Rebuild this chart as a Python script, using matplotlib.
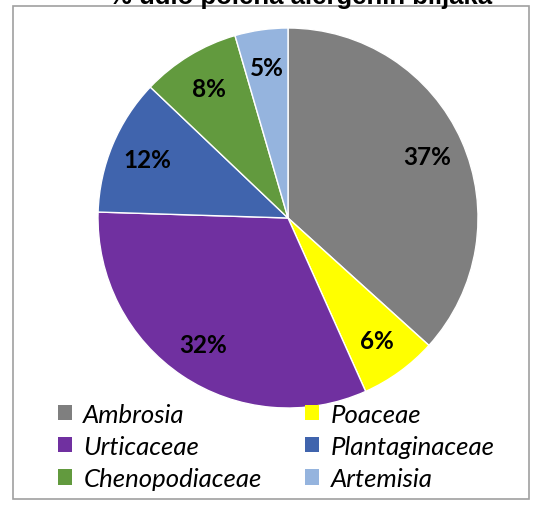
import matplotlib.pyplot as plt
from matplotlib.patches import Rectangle, Patch

# udio polena po porodicama (%)
names = ['Ambrosia', 'Poaceae', 'Urticaceae', 'Plantaginaceae', 'Chenopodiaceae', 'Artemisia']
values = [36.7, 6.6, 32.2, 11.6, 8.4, 4.5]
labels = ['37%', '6%', '32%', '12%', '8%', '5%']
colors = ['#7f7f7f', '#ffff00', '#7030a0', '#4064ad', '#629a3e', '#95b4de']

W, H = 533, 506
fig = plt.figure(figsize=(W/100, H/100), dpi=100)

# okvir grafikona
fig.patches.append(Rectangle((13/W, 1 - 500/H), 516/W, 493/H, transform=fig.transFigure,
                             fill=False, edgecolor='#a0a0a0', linewidth=1.2))

fig.text(301/W, 1 - 4/H, '% udio polena alergenih biljaka', ha='center', va='baseline',
         fontsize=18.5, fontweight='bold', family='Liberation Sans')

r = 190
ax = fig.add_axes([(288 - r)/W, 1 - (219 + r)/H, 2*r/W, 2*r/H])
wedges, texts = ax.pie(values, colors=colors, startangle=90, counterclock=False,
                       labels=labels, labeldistance=0.8,
                       wedgeprops=dict(edgecolor='white', linewidth=1))
for t in texts:
    t.set_fontsize(17.5)
    t.set_fontweight('bold')
    t.set_family('Lato')
    t.set_ha('center')
    t.set_va('center')
ax.set_xlim(-1, 1)
ax.set_ylim(-1, 1)
ax.set_aspect('equal')
ax.axis('off')

# legenda u dva stupca, redom po recima
order = [0, 2, 4, 1, 3, 5]
handles = [Patch(facecolor=colors[i], edgecolor='none') for i in order]
leg = fig.legend(handles, [names[i] for i in order], ncol=2, loc='upper left',
                 bbox_to_anchor=(37/W, 1 - 383/H), frameon=False,
                 prop=dict(family='Lato', style='italic', size=18.5),
                 handlelength=0.55, handleheight=0.55, handletextpad=0.45,
                 columnspacing=1.7, labelspacing=0.36, borderpad=0.3)

fig.savefig('out.png', dpi=100)
